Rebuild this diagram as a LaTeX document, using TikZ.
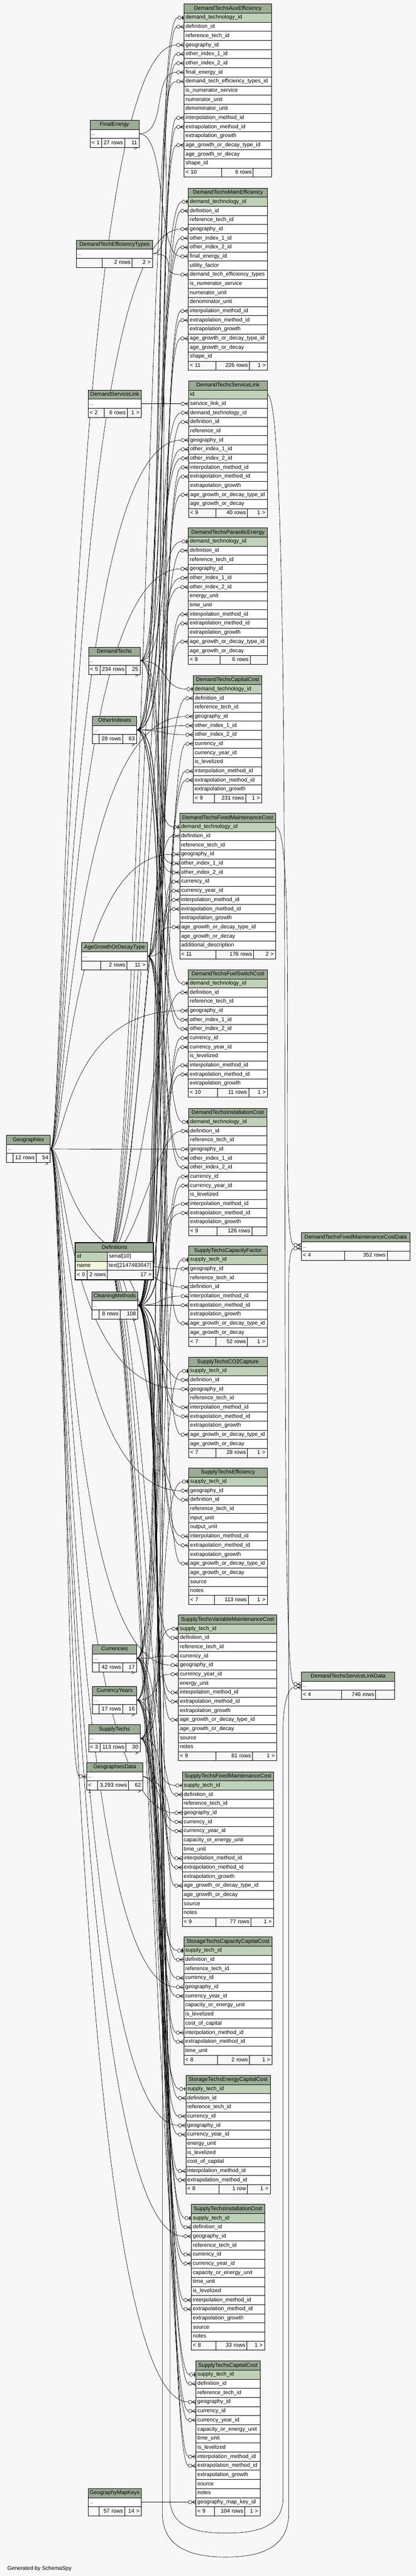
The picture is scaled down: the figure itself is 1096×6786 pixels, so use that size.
\documentclass[tikz,border=0pt]{standalone}
\usepackage{fontspec}
\setmainfont{Liberation Sans}
\usetikzlibrary{calc}
\pgfdeclarelayer{bgl}
\pgfdeclarelayer{connl}
\pgfsetlayers{bgl,connl,main}
\definecolor{bgc}{HTML}{F7F7F7}
\definecolor{hdrc}{HTML}{9BAB96}
\definecolor{pkc}{HTML}{BFD1B8}
\definecolor{idxc}{HTML}{F4F7DA}
\newcommand\tabfont{\fontsize{14.4}{16}\selectfont}
\newcommand\dotsfnt{\fontsize{11}{12}\selectfont}
\tikzset{
 hdrbox/.style={draw=black, line width=0.9pt, fill=hdrc, inner sep=0pt, minimum height=24pt, anchor=north west, font=\tabfont, text height=11pt, text depth=3.5pt},
 rowbox/.style={draw=black, line width=0.9pt, inner xsep=4pt, inner ysep=0pt, minimum height=24pt, anchor=north west, align=left, font=\tabfont, text height=11pt, text depth=3.5pt},
 footbox/.style={draw=black, line width=0.9pt, fill=bgc, inner xsep=4pt, inner ysep=0pt, minimum height=24pt, anchor=north west, font=\tabfont, text height=11pt, text depth=3.5pt},
 conn/.style={draw=black, line width=0.85pt},
}
% table with columns
\newcommand{\tbl}[7][white]{%
  \xdef\txl{#4}\xdef\txr{#5}\xdef\tyt{#6}%
  \pgfmathsetmacro\tabw{#5-#4}%
  \pgfmathsetmacro\tabtw{#5-#4-8}%
  \node[hdrbox, minimum width=\tabw pt] (#2-h) at (#4,#6) {#3};
  \foreach \cname [count=\ri] in {#7} {%
    \pgfmathsetmacro\yy{#6+24*\ri}%
    \ifnum\ri=1 \def\fc{#1}\else\def\fc{white}\fi
    \node[rowbox, fill=\fc, text width=\tabtw pt] (#2-\ri) at (#4,\yy) {\cname};
    \xdef\tbllast{\ri}%
  }%
}
% small table with "..."
\newcommand{\stbl}[5]{%
  \xdef\txl{#3}\xdef\txr{#4}\xdef\tyt{#5}%
  \pgfmathsetmacro\tabw{#4-#3}%
  \pgfmathsetmacro\tabtw{#4-#3-8}%
  \node[hdrbox, minimum width=\tabw pt] (#1-h) at (#3,#5) {#2};
  \pgfmathsetmacro\yy{#5+24}%
  \node[rowbox, fill=white, text width=\tabtw pt] (#1-1) at (#3,\yy) {\dotsfnt ...};
  \gdef\tbllast{1}%
}
% footer
\newcommand{\tft}[6]{%
  \pgfmathsetmacro\yf{\tyt+24*(\tbllast+1)}%
  \pgfmathsetmacro\wfa{#2-\txl-8}%
  \pgfmathsetmacro\wfb{#3-#2-8}%
  \pgfmathsetmacro\wfc{\txr-#3-10}%
  \node[footbox, align=left, text width=\wfa pt] (#1-f1) at (\txl,\yf) {#4};
  \node[footbox, align=right, text width=\wfb pt] (#1-f2) at (#2,\yf) {#5};
  \node[footbox, align=right, text width=\wfc pt, inner xsep=5pt] (#1-f3) at (#3,\yf) {#6};
}
% markers
\newcommand{\crowmark}{%
  \draw[conn] ($(e)+(-10.5,0)$) -- (e);
  \draw[conn] ($(e)+(-10,0)$) -- ($(e)+(0,-5)$);
  \draw[conn] ($(e)+(-10,0)$) -- ($(e)+(0,5)$);
  \draw[conn,fill=white] ($(e)+(-15,0)$) circle[radius=4.5pt];
}
\newcommand{\barmark}{%
  \draw[conn] ($(e)+(-16.5,0)$) -- (e);
  \draw[line width=2.5pt] ($(e)+(-3,-5)$) -- ($(e)+(-3,5)$);
  \draw[conn,fill=white] ($(e)+(-12,0)$) circle[radius=4.5pt];
}
\newcommand{\fkc}[3][0]{%
  \coordinate (e) at ($(#3.west)+(0,#1)$);
  \draw[conn] (#2.east) .. controls ($(#2.east)+(75,0)$) and ($(e)+(-85,0)$) .. ($(e)+(-19.5,0)$);
  \crowmark
}
\newcommand{\fkb}[2]{%
  \coordinate (e) at (#2.west);
  \draw[conn] (#1.east) .. controls ($(#1.east)+(75,0)$) and ($(e)+(-85,0)$) .. ($(e)+(-16.5,0)$);
  \barmark
}
\newcommand{\fkg}[1]{%
  \coordinate (e) at (#1.west);
  \coordinate (g1) at ($(geo-1.east)+(40,0)$);
  \draw[conn] (geo-1.east) .. controls (g1) and (g1 |- e) .. ($(e)+(-19.5,0)$);
  \crowmark
}
\begin{document}
\begin{tikzpicture}[x=1pt,y=-1pt]
\begin{pgfonlayer}{bgl}
\fill[bgc] (0,0) rectangle (1096,6786);
\end{pgfonlayer}
\useasboundingbox (0,0) rectangle (1096,6786);

% ---------------- main column tables
\tbl[pkc]{aux}{DemandTechsAuxEfficiency}{485}{715}{10}{demand\_technology\_id, definition\_id, reference\_tech\_id, geography\_id, other\_index\_1\_id, other\_index\_2\_id, final\_energy\_id, demand\_tech\_efficiency\_types\_id, is\_numerator\_service, numerator\_unit, denominator\_unit, interpolation\_method\_id, extrapolation\_method\_id, extrapolation\_growth, age\_growth\_or\_decay\_type\_id, age\_growth\_or\_decay, shape\_id}
\tft{aux}{583}{667}{< 10}{6 rows}{}

\tbl[pkc]{main}{DemandTechsMainEfficiency}{496}{705}{495}{demand\_technology\_id, definition\_id, reference\_tech\_id, geography\_id, other\_index\_1\_id, other\_index\_2\_id, final\_energy\_id, utility\_factor, demand\_tech\_efficiency\_types, is\_numerator\_service, numerator\_unit, denominator\_unit, interpolation\_method\_id, extrapolation\_method\_id, extrapolation\_growth, age\_growth\_or\_decay\_type\_id, age\_growth\_or\_decay, shape\_id}
\tft{main}{569}{657}{< 11}{226 rows}{1 >}

\tbl[pkc]{sl}{DemandTechsServiceLink}{497}{704}{1003}{id, service\_link\_id, demand\_technology\_id, definition\_id, reference\_id, geography\_id, other\_index\_1\_id, other\_index\_2\_id, interpolation\_method\_id, extrapolation\_method\_id, extrapolation\_growth, age\_growth\_or\_decay\_type\_id, age\_growth\_or\_decay}
\tft{sl}{569}{652}{< 9}{40 rows}{1 >}

\tbl[pkc]{par}{DemandTechsParasiticEnergy}{496}{705}{1390}{demand\_technology\_id, definition\_id, reference\_tech\_id, geography\_id, other\_index\_1\_id, other\_index\_2\_id, energy\_unit, time\_unit, interpolation\_method\_id, extrapolation\_method\_id, extrapolation\_growth, age\_growth\_or\_decay\_type\_id, age\_growth\_or\_decay}
\tft{par}{580}{659}{< 8}{6 rows}{}

\tbl[pkc]{cap}{DemandTechsCapitalCost}{509}{690}{1779}{demand\_technology\_id, definition\_id, reference\_tech\_id, geography\_id, other\_index\_1\_id, other\_index\_2\_id, currency\_id, currency\_year\_id, is\_levelized, interpolation\_method\_id, extrapolation\_method\_id, extrapolation\_growth}
\tft{cap}{565}{647}{< 9}{231 rows}{1 >}

\tbl[pkc]{fmc}{DemandTechsFixedMaintenanceCost}{473}{726}{2142}{demand\_technology\_id, definition\_id, reference\_tech\_id, geography\_id, other\_index\_1\_id, other\_index\_2\_id, currency\_id, currency\_year\_id, interpolation\_method\_id, extrapolation\_method\_id, extrapolation\_growth, age\_growth\_or\_decay\_type\_id, age\_growth\_or\_decay, additional\_description}
\tft{fmc}{569}{668}{< 11}{176 rows}{2 >}

\tbl[pkc]{fs}{DemandTechsFuelSwitchCost}{496}{705}{2554}{demand\_technology\_id, definition\_id, reference\_tech\_id, geography\_id, other\_index\_1\_id, other\_index\_2\_id, currency\_id, currency\_year\_id, is\_levelized, interpolation\_method\_id, extrapolation\_method\_id, extrapolation\_growth}
\tft{fs}{573}{655}{< 10}{11 rows}{1 >}

\tbl[pkc]{inst}{DemandTechsInstallationCost}{497}{703}{2919}{demand\_technology\_id, definition\_id, reference\_tech\_id, geography\_id, other\_index\_1\_id, other\_index\_2\_id, currency\_id, currency\_year\_id, is\_levelized, interpolation\_method\_id, extrapolation\_method\_id, extrapolation\_growth}
\tft{inst}{571}{663}{< 9}{126 rows}{}

\tbl[pkc]{scf}{SupplyTechsCapacityFactor}{497}{704}{3282}{supply\_tech\_id, geography\_id, reference\_tech\_id, definition\_id, interpolation\_method\_id, extrapolation\_method\_id, extrapolation\_growth, age\_growth\_or\_decay\_type\_id, age\_growth\_or\_decay}
\tft{scf}{569}{652}{< 7}{52 rows}{1 >}

\tbl[pkc]{co2}{SupplyTechsCO2Capture}{497}{704}{3575}{supply\_tech\_id, definition\_id, geography\_id, reference\_tech\_id, interpolation\_method\_id, extrapolation\_method\_id, extrapolation\_growth, age\_growth\_or\_decay\_type\_id, age\_growth\_or\_decay}
\tft{co2}{569}{652}{< 7}{28 rows}{1 >}

\tbl[pkc]{eff}{SupplyTechsEfficiency}{497}{704}{3866.5}{supply\_tech\_id, geography\_id, definition\_id, reference\_tech\_id, input\_unit, output\_unit, interpolation\_method\_id, extrapolation\_method\_id, extrapolation\_growth, age\_growth\_or\_decay\_type\_id, age\_growth\_or\_decay, source, notes}
\tft{eff}{565}{654}{< 7}{113 rows}{1 >}

\tbl[pkc]{vmc}{SupplyTechsVariableMaintenanceCost}{470}{729}{4254}{supply\_tech\_id, definition\_id, reference\_tech\_id, currency\_id, geography\_id, currency\_year\_id, energy\_unit, interpolation\_method\_id, extrapolation\_method\_id, extrapolation\_growth, age\_growth\_or\_decay\_type\_id, age\_growth\_or\_decay, source, notes}
\tft{vmc}{569}{665}{< 9}{81 rows}{1 >}

\tbl[pkc]{sfmc}{SupplyTechsFixedMaintenanceCost}{480}{721}{4667}{supply\_tech\_id, definition\_id, reference\_tech\_id, geography\_id, currency\_id, currency\_year\_id, capacity\_or\_energy\_unit, time\_unit, interpolation\_method\_id, extrapolation\_method\_id, extrapolation\_growth, age\_growth\_or\_decay\_type\_id, age\_growth\_or\_decay, source, notes}
\tft{sfmc}{569}{661}{< 9}{77 rows}{1 >}

\tbl[pkc]{stcc}{StorageTechsCapacityCapitalCost}{484}{717}{5102}{supply\_tech\_id, definition\_id, reference\_tech\_id, currency\_id, geography\_id, currency\_year\_id, capacity\_or\_energy\_unit, is\_levelized, cost\_of\_capital, interpolation\_method\_id, extrapolation\_method\_id, time\_unit}
\tft{stcc}{573}{657}{< 8}{2 rows}{1 >}

\tbl[pkc]{stec}{StorageTechsEnergyCapitalCost}{489.5}{712}{5466.5}{supply\_tech\_id, definition\_id, reference\_tech\_id, currency\_id, geography\_id, currency\_year\_id, energy\_unit, is\_levelized, cost\_of\_capital, interpolation\_method\_id, extrapolation\_method\_id}
\tft{stec}{577}{652}{< 8}{1 row}{1 >}

\tbl[pkc]{sic}{SupplyTechsInstallationCost}{504}{697}{5806.6}{supply\_tech\_id, definition\_id, geography\_id, reference\_tech\_id, currency\_id, currency\_year\_id, capacity\_or\_energy\_unit, time\_unit, is\_levelized, interpolation\_method\_id, extrapolation\_method\_id, extrapolation\_growth, source, notes}
\tft{sic}{569}{650}{< 8}{33 rows}{1 >}

\tbl[pkc]{scc}{SupplyTechsCapitalCost}{516}{685}{6219}{supply\_tech\_id, definition\_id, reference\_tech\_id, geography\_id, currency\_id, currency\_year\_id, capacity\_or\_energy\_unit, time\_unit, is\_levelized, interpolation\_method\_id, extrapolation\_method\_id, extrapolation\_growth, source, notes, geography\_map\_key\_id}
\tft{scc}{565}{645}{< 9}{104 rows}{1 >}

% ---------------- small tables
\stbl{fe}{FinalEnergy}{237}{366}{316}
\tft{fe}{267}{328}{< 1}{27 rows}{11 >}
\stbl{dtet}{DemandTechEfficiencyTypes}{201}{402}{632}
\tft{dtet}{269}{348}{}{2 rows}{2 >}
\stbl{dsl}{DemandServiceLink}{232}{372}{1027}
\tft{dsl}{274.5}{335}{< 2}{6 rows}{1 >}
\stbl{dt}{DemandTechs}{233}{369}{1704}
\tft{dt}{263}{331.6}{< 5}{234 rows}{25 >}
\stbl{oi}{OtherIndexes}{243.6}{359.7}{1886.5}
\tft{oi}{261}{322.8}{}{29 rows}{63 >}
\stbl{agdt}{AgeGrowthOrDecayType}{215}{388}{2482.5}
\tft{agdt}{265}{334}{}{2 rows}{11 >}
\stbl{geo}{Geographies}{16.4}{132}{2990}
\tft{geo}{34}{95}{}{12 rows}{54 >}
\stbl{cm}{CleaningMethods}{241}{363}{3402}
\tft{cm}{261}{316}{}{8 rows}{108 >}
\stbl{cur}{Currencies}{243.6}{359.7}{4332}
\tft{cur}{261}{322.8}{}{42 rows}{17 >}
\stbl{cy}{CurrencyYears}{243.6}{359.7}{4442}
\tft{cy}{261}{322.8}{}{17 rows}{16 >}
\stbl{st}{SupplyTechs}{233}{369}{4543}
\tft{st}{263}{331.6}{< 3}{113 rows}{30 >}
\stbl{gd}{GeographiesData}{228}{376}{4643}
\tft{gd}{257}{338.4}{< 1}{3,293 rows}{62 >}
\stbl{gmk}{GeographyMapKeys}{232}{372}{6555}
\tft{gmk}{261}{328}{}{57 rows}{14 >}
\stbl{fmcd}{DemandTechsFixedMaintenanceCostData}{794}{1080}{3247}
\tft{fmcd}{907.7}{1020}{< 4}{352 rows}{}
\stbl{sld}{DemandTechsServiceLinkData}{794}{1040}{4404}
\tft{sld}{900}{990}{< 4}{746 rows}{}

% Definitions (two columns)
\xdef\txl{198.5}\xdef\txr{404}\xdef\tyt{3274}
\node[hdrbox, minimum width=205.5pt] (def-h) at (198.5,3274) {Definitions};
\node[rowbox, fill=pkc, text width=76.1pt] (def-1) at (198.5,3298) {id};
\node[rowbox, fill=white, text width=113.4pt] (def-1b) at (282.6,3298) {serial[10]};
\node[rowbox, fill=idxc, text width=76.1pt] (def-2) at (198.5,3322) {name};
\node[rowbox, fill=white, text width=113.4pt] (def-2b) at (282.6,3322) {text[2147483647]};
\gdef\tbllast{2}
\tft{def}{229.5}{282.6}{< 0}{2 rows}{17 >}
\draw[line width=2.5pt] (def-h.north west) rectangle (def-f3.south east);

\node[anchor=west, font=\tabfont] (gen) at (16,6767) {Generated by SchemaSpy};

% ---------------- connectors
\begin{pgfonlayer}{connl}
\foreach \tn in {aux-1, main-1, par-1, cap-1, fmc-1, fs-1, inst-1} {\fkb{dt-1}{\tn}}
\fkc{dt-1}{sl-3}
\foreach \tn in {aux-2, main-2, sl-4, par-2, cap-2, fmc-2, fs-2, inst-2, scf-4, co2-2, eff-3, vmc-2, sfmc-2, stcc-2, stec-2, sic-2, scc-2} {\fkc{def-1}{\tn}}
\foreach \tn in {aux-4, main-4, sl-6, par-4, cap-4, fmc-4, fs-4, inst-4, scf-2, co2-3, eff-2, vmc-5, sfmc-4, stcc-5, stec-5, sic-3, scc-4, gd-1} {\fkg{\tn}}
\foreach \tn in {aux-5, aux-6, main-5, main-6, sl-7, sl-8, par-5, par-6, cap-5, cap-6, fmc-5, fmc-6, fs-5, fs-6, inst-5, inst-6} {\fkc{oi-1}{\tn}}
\foreach \tn in {aux-7, main-7} {\fkc{fe-1}{\tn}}
\foreach \tn in {aux-8, main-9} {\fkc{dtet-1}{\tn}}
\foreach \tn in {aux-12, aux-13, main-13, main-14, sl-9, sl-10, par-9, par-10, cap-10, cap-11, fmc-9, fmc-10, fs-10, fs-11, inst-10, inst-11, scf-5, scf-6, co2-5, co2-6, eff-7, eff-8, vmc-8, vmc-9, sfmc-9, sfmc-10, stcc-10, stcc-11, stec-10, stec-11, sic-10, sic-11, scc-10, scc-11} {\fkc{cm-1}{\tn}}
\foreach \tn in {aux-15, main-16, sl-12, par-12, fmc-12, scf-8, co2-8, eff-10, vmc-11, sfmc-12} {\fkc{agdt-1}{\tn}}
\fkc{dsl-1}{sl-2}
\foreach \tn in {cap-7, fmc-7, fs-7, inst-7, vmc-4, sfmc-5, stcc-4, stec-4, sic-5, scc-5} {\fkc{cur-1}{\tn}}
\foreach \tn in {fmc-8, fs-8, inst-8, vmc-6, sfmc-6, stcc-6, stec-6, sic-6, scc-6} {\fkc{cy-1}{\tn}}
\foreach \tn in {scf-1, co2-1, eff-1, vmc-1, sfmc-1, stcc-1, stec-1, sic-1, scc-1} {\fkb{st-1}{\tn}}
\fkc{gmk-1}{scc-15}
% data tables
\coordinate (e) at ($(fmcd-1.west)+(0,-4)$);
\draw[conn] (fmc-1.east) .. controls ($(fmc-1.east)+(60,0)$) and ($(e)+(-60,0)$) .. ($(e)+(-19.5,0)$);
\crowmark
\coordinate (e) at ($(fmcd-1.west)+(0,5)$);
\draw[conn] (gd-1.east) .. controls (410,4690) and (428,4730) .. (428,4800) -- (428,6620) .. controls (428,6720) and (520,6736) .. (595,6736) .. controls (690,6736) and (761,6710) .. (761,6620) -- (761,3400) .. controls (761,3330) and ($(e)+(-30,0)$) .. ($(e)+(-19.5,0)$);
\crowmark
\coordinate (e) at ($(sld-1.west)+(0,-4)$);
\draw[conn] (sl-1.east) .. controls ($(sl-1.east)+(80,0)$) and ($(e)+(-70,0)$) .. ($(e)+(-19.5,0)$);
\crowmark
\coordinate (e) at ($(sld-1.west)+(0,5)$);
\draw[conn] (gd-1.east) .. controls (425,4690) and (448,4730) .. (448,4800) -- (448,6580) .. controls (448,6660) and (520,6673) .. (597,6673) .. controls (690,6673) and (746,6650) .. (746,6580) -- (746,4560) .. controls (746,4490) and ($(e)+(-35,0)$) .. ($(e)+(-19.5,0)$);
\crowmark
\end{pgfonlayer}
\end{tikzpicture}
\end{document}
